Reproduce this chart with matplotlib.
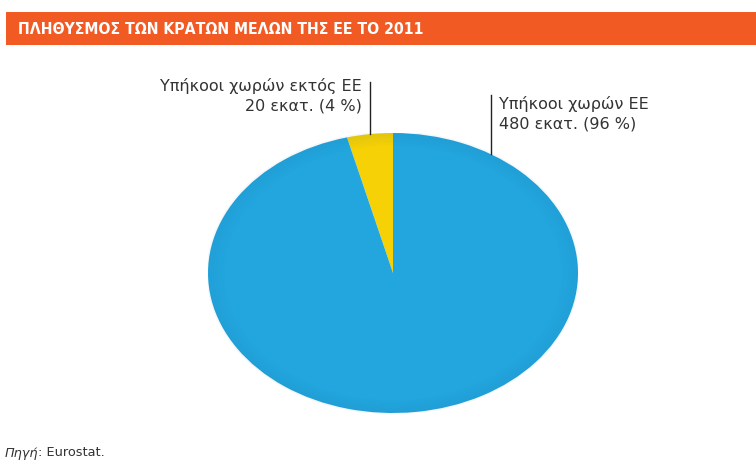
import numpy as np
import matplotlib
matplotlib.use("Agg")
import matplotlib.pyplot as plt
from matplotlib.patches import Rectangle, Ellipse

# population of EU member states in 2011, millions
labels = ["Υπήκοοι χωρών εκτός ΕΕ", "Υπήκοοι χωρών ΕΕ"]
values = [20, 480]
shares = [4, 96]
colors = ["#f6d106", "#23a6de"]

W, H = 756, 468
fig = plt.figure(figsize=(W / 100, H / 100), dpi=100)
fig.patch.set_facecolor("white")

def fx(px):
    return px / W

def fy(py):
    return 1 - py / H

# orange title banner
fig.patches.append(Rectangle((fx(6), fy(45)), fx(750), 33 / H, transform=fig.transFigure,
                             facecolor="#f15a22", edgecolor="none"))
fig.text(fx(18), fy(29), "ΠΛΗΘΥΣΜΟΣ ΤΩΝ ΚΡΑΤΩΝ ΜΕΛΩΝ ΤΗΣ ΕΕ ΤΟ 2011", color="white",
         fontsize=11.3, fontweight="bold", family="DejaVu Sans", fontstretch="condensed",
         va="center", ha="left")

# elliptical pie: axes is wider than tall and aspect is left free
ax = fig.add_axes([fx(208), fy(413), fx(370), 280 / H])
wedges, _ = ax.pie(values, colors=colors, startangle=90, counterclock=True,
                   wedgeprops=dict(linewidth=0))
ax.set_aspect("auto")
ax.set_xlim(-1, 1)
ax.set_ylim(-1, 1)
ax.axis("off")

# soft darker rim
for k in range(8):
    r = 1 - k * 0.012
    ax.add_patch(Ellipse((0, 0), 2 * r, 2 * r, fill=False, edgecolor="#0a4f7a",
                         lw=2.2, alpha=0.045 * (8 - k) / 8))

# leader lines, from wedge edge upward
anchor_angles = [97.2, 58]
line_tops = [1.365, 1.27]
for ang, top in zip(anchor_angles, line_tops):
    x = np.cos(np.radians(ang))
    y = np.sin(np.radians(ang))
    ax.plot([x, x], [y, top], color="#222222", lw=1.0, clip_on=False)

txt = dict(fontsize=11.5, color="#333333", family="DejaVu Sans")
fig.text(fx(362), fy(86), labels[0], ha="right", va="center", **txt)
fig.text(fx(362), fy(106), f"{values[0]} εκατ. ({shares[0]} %)", ha="right", va="center", **txt)
fig.text(fx(499), fy(104), labels[1], ha="left", va="center", **txt)
fig.text(fx(499), fy(124), f"{values[1]} εκατ. ({shares[1]} %)", ha="left", va="center", **txt)

# source line
src = dict(fontsize=9.3, color="#333333", family="DejaVu Sans")
t1 = fig.text(fx(5), fy(453), "Πηγή", style="italic", ha="left", va="center", **src)
ax.annotate(": Eurostat.", xy=(1, 0.5), xycoords=t1, ha="left", va="center",
            annotation_clip=False, **src)

fig.savefig("out.png", dpi=100)
